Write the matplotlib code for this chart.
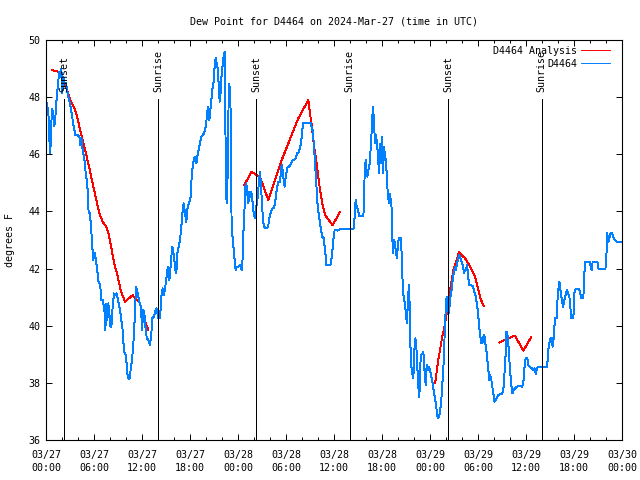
import numpy as np
import pandas as pd
import matplotlib
matplotlib.use("Agg")
import matplotlib.pyplot as plt
import matplotlib.dates as mdates

# time axis: hours since 2024-03-27 00:00 UTC
start = pd.Timestamp("2024-03-27 00:00")

# observed dew point (D4464)
obs_hours = [
    0.12, 0.33, 0.42, 0.54, 0.63, 0.79, 0.92, 1.04, 1.17, 1.25, 1.38, 1.5, 1.67, 1.79, 1.92,
    2.04, 2.17, 2.29, 2.5, 2.67, 2.83, 3.0, 3.17, 3.33, 3.5, 3.67, 3.96, 4.17, 4.29, 4.42,
    4.58, 4.79, 4.92, 5.04, 5.21, 5.33, 5.5, 5.63, 5.75, 5.88, 6.0, 6.13, 6.25, 6.42, 6.5,
    6.67, 6.79, 6.92, 7.08, 7.29, 7.42, 7.54, 7.67, 7.79, 7.92, 8.04, 8.17, 8.33, 8.5, 8.67,
    8.83, 8.96, 9.08, 9.25, 9.42, 9.58, 9.75, 9.92, 10.04, 10.21, 10.42, 10.58, 10.75, 10.92,
    11.08, 11.25, 11.38, 11.54, 11.71, 11.88, 12.0, 12.17, 12.33, 12.46,
    12.5, 12.58, 12.79, 13.0, 13.17, 13.29, 13.5, 13.63, 13.83, 14.04, 14.25, 14.42, 14.58,
    14.75, 14.88, 15.0, 15.17, 15.29, 15.42, 15.54, 15.67, 15.79, 15.92, 16.04, 16.17, 16.29,
    16.42, 16.58, 16.75, 16.92, 17.04, 17.21, 17.38, 17.54, 17.71, 17.92, 18.08, 18.17, 18.29,
    18.46, 18.63, 18.79, 18.92, 19.08, 19.25, 19.42, 19.58, 19.75, 19.92, 20.04, 20.17, 20.29,
    20.42, 20.54, 20.67, 20.79, 20.96, 21.08, 21.21, 21.33, 21.46, 21.58, 21.71, 21.83, 21.96,
    22.08, 22.25, 22.33, 22.42, 22.5, 22.58, 22.67, 22.75, 22.83, 22.92, 22.96, 23.04, 23.13,
    23.21, 23.33, 23.46, 23.58, 23.71, 23.88,
    24.04, 24.25, 24.46, 24.58, 24.67, 24.79, 24.92, 25.04, 25.17, 25.29, 25.42, 25.54, 25.67,
    25.79, 25.96, 26.13, 26.25, 26.38, 26.5, 26.63, 26.75, 26.88, 27.04, 27.21, 27.38, 27.63,
    27.79, 27.96, 28.13, 28.29, 28.46, 28.63, 28.75, 28.88, 29.04, 29.21, 29.33, 29.46, 29.58,
    29.71, 29.83, 29.96, 30.08, 30.21, 30.38, 30.54, 30.71, 30.88, 31.04, 31.21, 31.38, 31.54,
    31.71, 31.88, 32.0, 32.13, 32.38, 32.79, 33.13, 33.25, 33.38, 33.46, 33.58, 33.71, 33.83,
    33.96, 34.08, 34.25, 34.38, 34.54, 34.71, 34.83, 34.96, 35.04, 35.29, 35.54, 35.67, 35.79,
    35.96, 36.08,
    36.42, 36.75, 37.38, 38.0, 38.42, 38.54, 38.63, 38.71, 38.83, 39.0, 39.17, 39.42, 39.67,
    39.75, 39.83, 39.92, 40.0, 40.08, 40.17, 40.29, 40.42, 40.54, 40.63, 40.71, 40.79, 40.88,
    40.96, 41.04, 41.13, 41.25, 41.38, 41.5, 41.63, 41.75, 41.88, 42.0, 42.13, 42.25, 42.38,
    42.5, 42.63, 42.75, 42.88, 43.0, 43.13, 43.21, 43.29, 43.38, 43.5, 43.63, 43.75, 43.88,
    44.0, 44.13, 44.33, 44.46, 44.58, 44.71, 44.88, 45.0, 45.13, 45.25, 45.38, 45.46, 45.54,
    45.67, 45.79, 45.92, 46.04, 46.17, 46.29, 46.42, 46.54, 46.67, 46.79, 46.92, 47.04, 47.17,
    47.33, 47.46, 47.58, 47.71, 47.83,
    48.0, 48.17, 48.33, 48.5, 48.67, 48.83, 48.96, 49.13, 49.25, 49.38, 49.5, 49.63, 49.75,
    49.83, 49.92, 50.0, 50.08, 50.17, 50.25, 50.38, 50.5, 50.63, 50.75, 50.88, 51.0, 51.13,
    51.25, 51.38, 51.5, 51.63, 51.75, 51.88, 52.0, 52.13, 52.25, 52.38, 52.5, 52.63, 52.75,
    52.88, 53.13, 53.38, 53.54, 53.67, 53.79, 53.92, 54.04, 54.17, 54.29, 54.42, 54.54, 54.67,
    54.79, 54.92, 55.04, 55.17, 55.29, 55.42, 55.54, 55.67, 55.79, 55.92, 56.04, 56.21, 56.38,
    56.54, 56.71, 56.88, 57.04, 57.21, 57.33, 57.46, 57.54, 57.67, 57.79, 57.92, 58.04, 58.17,
    58.29, 58.46, 58.63, 58.83, 59.04, 59.29, 59.54, 59.71,
    59.83, 59.96, 60.17, 60.29, 60.5, 60.71, 60.92, 61.08, 61.21, 61.33, 61.46, 61.75, 62.17,
    62.58, 62.71, 62.83, 62.96, 63.08, 63.21, 63.33, 63.46, 63.54, 63.67, 63.83, 63.96, 64.08,
    64.17, 64.25, 64.38, 64.5, 64.63, 64.75, 64.88, 65.0, 65.13, 65.25, 65.42, 65.54, 65.67,
    65.92, 66.04, 66.17, 66.42, 66.67, 66.79, 66.92, 67.17, 67.29, 67.42, 67.75, 67.96, 68.08,
    68.21, 68.33, 68.63, 68.92, 69.04, 69.25, 69.67, 69.92, 70.04, 70.13, 70.25, 70.33, 70.46,
    70.58, 70.75, 70.92, 71.08, 71.33, 71.9,
]
obs_dewpt = [
    47.78, 47.3, 46.5, 46.03, 46.97, 47.6, 47.3, 46.97, 47.3, 47.67, 48.07, 48.48, 48.89, 48.72, 49.0,
    48.13, 48.72, 48.48, 48.48, 48.19, 47.96, 47.78, 47.49, 47.2, 46.91, 46.67, 46.67, 46.62, 46.32, 46.56,
    46.15, 45.86, 45.45, 45.22, 44.75, 43.93, 43.93, 43.41, 43.0, 42.3, 42.42, 42.53, 42.24, 41.95, 41.6,
    41.48, 41.37, 40.9, 40.9, 40.61, 39.85, 40.78, 40.2, 40.78, 40.43, 39.97, 39.97, 40.66, 41.13, 41.07,
    41.13, 40.96, 40.78, 40.55, 40.2, 39.85, 39.09, 39.03, 38.8, 38.21, 38.12, 38.45, 38.8, 39.38,
    40.2, 41.37, 41.25, 41.02, 40.78, 40.66, 39.85, 40.55, 40.32, 39.85,
    39.97, 39.56, 39.5, 39.32, 39.73, 40.26, 40.32, 40.49, 40.61, 40.26, 40.26, 41.02, 41.31,
    41.07, 41.31, 41.54, 41.95, 42.07, 41.6, 41.95, 42.42, 42.77, 42.59, 42.3, 41.95, 41.83,
    42.53, 42.77, 43.0, 43.47, 43.93, 44.28, 43.93, 43.64, 44.17, 44.34, 44.52, 45.04, 45.45,
    45.8, 45.92, 45.68, 45.92, 46.15, 46.38, 46.62, 46.67, 46.73, 46.91, 47.14, 47.49, 47.67,
    47.2, 47.55, 47.9, 48.25, 48.54, 49.07, 49.36, 49.18, 49.0, 48.48, 47.84, 48.19, 48.83,
    49.12, 49.53, 49.59, 47.08, 44.93, 44.28, 44.87, 46.03, 48.0, 48.48, 48.02, 48.37, 45.57,
    43.23, 43.11, 42.65, 42.3, 41.95, 42.07,
    42.07, 42.12, 41.95, 42.36, 43.23, 43.93, 44.87, 44.98, 44.63, 44.28, 44.69, 44.52, 44.69,
    44.4, 43.93, 43.76, 44.17, 44.28, 44.63, 45.1, 45.39, 44.87, 44.05, 43.52, 43.41, 43.41,
    43.52, 43.82, 43.99, 44.11, 44.11, 44.28, 44.57, 44.81, 45.04, 45.04, 45.27, 45.62, 45.45,
    45.1, 44.87, 45.22, 45.39, 45.57, 45.57, 45.62, 45.74, 45.8, 45.8, 45.86, 46.03, 46.03,
    46.21, 46.38, 46.73, 47.08, 47.08, 47.08, 47.08, 46.85, 46.85, 46.38, 45.92, 45.33, 44.75,
    44.17, 43.93, 43.58, 43.35, 43.11, 43.06, 42.77, 42.42, 42.12, 42.12, 42.12, 42.3, 42.59,
    43.11, 43.35,
    43.33, 43.37, 43.37, 43.37, 43.37, 43.64, 44.11, 44.4, 44.17, 44.05, 43.84, 43.84, 43.84,
    44.34, 45.33, 45.68, 45.8, 45.39, 45.22, 45.45, 45.57, 46.03, 46.38, 46.85, 47.32, 47.67,
    47.32, 46.85, 46.38, 46.67, 46.38, 45.92, 45.33, 46.38, 45.68, 46.62, 45.33, 46.27, 45.92,
    45.8, 45.04, 44.52, 44.28, 44.63, 44.28, 44.11, 43.06, 42.53, 43.0, 42.88, 42.53, 42.36,
    42.88, 43.06, 43.06, 42.53, 41.48, 40.96, 40.78, 40.32, 40.08, 41.02, 41.42, 40.66, 39.38,
    38.56, 38.33, 38.16, 39.15, 39.56, 39.27, 38.56, 37.86, 37.51, 38.68, 38.97, 39.03, 39.09,
    38.33, 37.92, 38.62, 38.45, 38.56,
    38.45, 38.21, 37.98, 37.63, 37.4, 37.05, 36.76, 36.81, 36.99, 37.28, 37.75, 38.33, 38.91,
    39.73, 40.32, 40.66, 41.02, 40.78, 40.55, 40.43, 40.9, 41.13, 41.37, 41.72, 41.89, 42.07,
    41.95, 42.18, 42.3, 42.47, 42.42, 42.3, 42.18, 42.07, 41.83, 41.95, 41.95, 42.12, 41.77,
    41.42, 41.42, 41.37, 41.19, 41.07, 40.9, 40.66, 40.32, 39.91, 39.62, 39.38, 39.38, 39.62,
    39.67, 39.38, 39.15, 38.8, 38.45, 38.1, 38.27, 38.1, 37.86, 37.63, 37.34, 37.4, 37.51,
    37.57, 37.6, 37.6, 37.63, 37.86, 38.45, 39.03, 39.79, 39.73, 39.38, 38.8, 38.33, 37.92,
    37.63, 37.75, 37.81, 37.86, 37.89, 37.89, 37.86, 38.1,
    38.62, 38.86, 38.86, 38.62, 38.56, 38.51, 38.45, 38.51, 38.31, 38.45, 38.56, 38.56, 38.56,
    38.56, 38.8, 39.27, 39.44, 39.56, 39.56, 39.27, 39.56, 39.97, 40.26, 40.26, 41.02, 41.37,
    41.54, 41.37, 41.07, 40.9, 40.66, 40.84, 41.02, 41.13, 41.25, 41.13, 41.02, 40.66, 40.26,
    40.26, 41.13, 41.27, 41.27, 41.27, 41.13, 40.98, 40.98, 41.83, 42.24, 42.24, 42.24, 42.07,
    41.95, 42.24, 42.24, 42.24, 42.0, 41.97, 41.97, 41.97, 42.3, 43.23, 43.11, 42.94, 43.11,
    43.23, 43.23, 43.11, 43.0, 42.94, 42.94,
]

# analysis dew point (nan = gap between runs)
ana_hours = [
    0.75, 1.58, 1.88, 2.29, 2.71, 3.13, 3.54, 3.83, 4.17, 4.58, 5.0, 5.42, 5.83, 6.25, 6.67,
    7.08, 7.5, 7.83, 8.13, 8.54, 8.96, 9.38, 9.88, 10.83, 11.33, 11.75, 12.17, 12.79, 18.0,
    24.79, 25.71, 26.33, 26.75, 27.79, 28.63, 29.46, 30.29, 31.54, 32.79, 33.0, 33.21, 33.46,
    33.83, 34.25, 34.54, 34.88, 35.5, 35.83, 36.75, 42.0,
    48.63, 49.04, 49.46, 49.88, 50.08, 50.5, 50.92, 51.33, 51.63, 51.96, 52.38, 52.79, 53.21,
    53.63, 54.04, 54.38, 54.71, 55.5,
    56.67, 57.38, 58.0, 58.42, 58.63, 59.67, 60.63,
]
ana_dewpt = [
    48.95, 48.89, 48.72, 48.48, 48.19, 47.84, 47.61, 47.37, 46.97, 46.5, 46.03, 45.51, 44.98, 44.46, 43.93,
    43.64, 43.47, 43.23, 42.77, 42.18, 41.72, 41.19, 40.84, 41.07, 40.9, 40.79, 40.32, 39.85, np.nan,
    44.93, 45.39, 45.27, 45.2, 44.4, 45.1, 45.8, 46.38, 47.26, 47.9, 47.43, 47.02, 46.38,
    45.68, 44.75, 44.28, 43.87, 43.64, 43.52, 43.99, np.nan,
    37.98, 38.8, 39.5, 40.08, 40.43, 41.25, 41.95, 42.3, 42.57, 42.47, 42.36, 42.18, 41.95,
    41.72, 41.25, 40.9, 40.7, np.nan,
    39.41, 39.5, 39.58, 39.64, 39.64, 39.13, 39.59,
]

sunset_hours = [2.28, 26.26, 50.28]
sunrise_hours = [14.03, 37.98, 61.95]


def to_time(hours):
    return start + pd.to_timedelta(hours, unit="h")


plt.rcParams["font.family"] = "DejaVu Sans Mono"
plt.rcParams["font.size"] = 7.2

fig = plt.figure(figsize=(6.4, 4.8), dpi=100)
ax = fig.add_axes([46 / 640, 40 / 480, 576 / 640, 400 / 480])

ax.plot(to_time(ana_hours), ana_dewpt, color="#ff0000", lw=0.7, antialiased=False,
        label="D4464 Analysis")
ax.plot(to_time(obs_hours), obs_dewpt, color="#0080ff", lw=0.7, antialiased=False,
        label="D4464")

# sunrise / sunset markers
for name, hrs in [("Sunset", sunset_hours), ("Sunrise", sunrise_hours)]:
    for t in to_time(hrs):
        ax.vlines(t, 36, 47.93, color="black", lw=0.7, antialiased=False)
        ax.text(t, 48.18, name, rotation=90, ha="center", va="bottom")

ax.set_xlim(start, start + pd.Timedelta(hours=72))
ax.set_ylim(36, 50)
ax.set_yticks(np.arange(36, 51, 2))
ax.xaxis.set_major_locator(mdates.HourLocator(byhour=range(0, 24, 6)))
ax.xaxis.set_minor_locator(mdates.HourLocator(byhour=range(0, 24, 2)))
ax.xaxis.set_major_formatter(mdates.DateFormatter("%m/%d\n%H:%M"))
ax.tick_params(which="both", direction="in", top=True, right=True, width=0.7)
ax.tick_params(which="major", length=4, pad=4)
ax.tick_params(axis="x", which="major", pad=7)
ax.tick_params(which="minor", length=2.5)
for s in ax.spines.values():
    s.set_linewidth(0.8)

ax.set_title("Dew Point for D4464 on 2024-Mar-27 (time in UTC)", fontsize=7.2, pad=11)
ax.set_ylabel("degrees F", labelpad=10)

ax.legend(loc="upper right", bbox_to_anchor=(1 - 12 / 576, 1 - 6 / 400), frameon=False,
          markerfirst=False, borderaxespad=0, borderpad=0, handlelength=2.9,
          handletextpad=0.4, labelspacing=0.3)

# wider gap between date and time lines of the x labels
fig.canvas.draw()
for lbl in ax.get_xticklabels():
    lbl.set_linespacing(1.45)

plt.savefig("out.png", dpi=100)
